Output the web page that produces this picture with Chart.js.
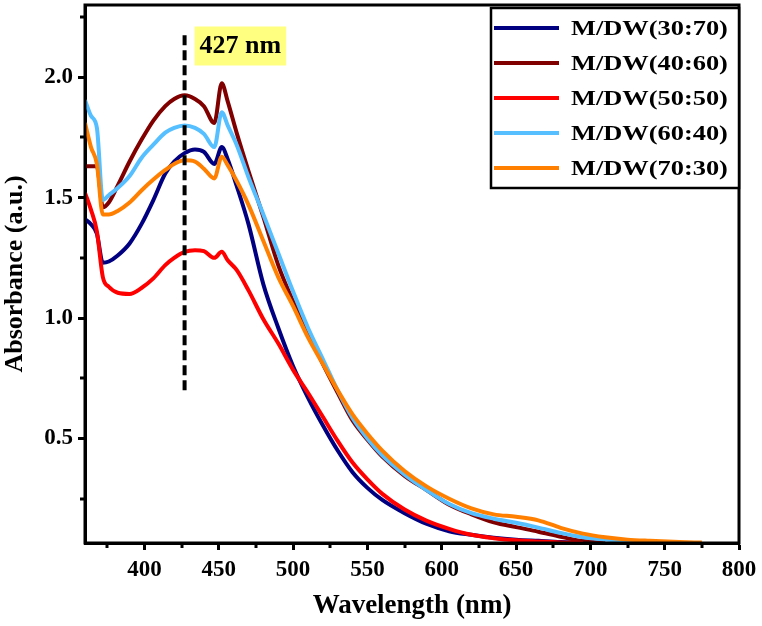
<!DOCTYPE html>
<html>
<head>
<meta charset="utf-8">
<script src="https://cdn.jsdelivr.net/npm/chart.js@4.4.1/dist/chart.umd.min.js"></script>
<style>
  html, body { margin: 0; padding: 0; background: #fff; }
  #wrap { width: 762px; height: 626px; }
</style>
</head>
<body>
<div id="wrap"><canvas id="uvChart" width="762" height="626"></canvas></div>
<script>
// UV-Vis absorbance spectra, M/DW ratios

const wavelengths = [360, 364, 368, 372, 376, 382, 390, 398, 406, 414, 420, 427, 434, 440, 447, 452, 456, 462, 470, 480,
    490, 500, 510, 520, 530, 540, 550, 560, 575, 590, 605, 620, 635, 650, 665, 680, 695, 710, 725, 740, 760, 775];

const seriesLabels = ['M/DW(30:70)', 'M/DW(40:60)', 'M/DW(50:50)', 'M/DW(60:40)', 'M/DW(70:30)'];
const seriesColors = ['#000080', '#800000', '#ff0000', '#55bfff', '#ff8000'];

const abs3070 = [1.41, 1.39, 1.35, 1.23, 1.235, 1.26, 1.31, 1.39, 1.49, 1.60, 1.65, 1.685, 1.70, 1.69, 1.64, 1.71, 1.66, 1.55, 1.39, 1.14,
    0.96, 0.80, 0.67, 0.555, 0.45, 0.36, 0.295, 0.245, 0.19, 0.145, 0.115, 0.10, 0.088, 0.08, 0.075, 0.07, 0.067, null, null, null, null, null];
const abs4060 = [1.63, 1.63, 1.63, 1.46, 1.48, 1.55, 1.65, 1.74, 1.82, 1.88, 1.91, 1.925, 1.91, 1.88, 1.81, 1.975, 1.90, 1.77, 1.61, 1.42,
    1.22, 1.07, 0.94, 0.81, 0.69, 0.575, 0.495, 0.425, 0.345, 0.285, 0.225, 0.185, 0.152, 0.132, 0.113, 0.092, 0.074, 0.066, null, null, null, null];
const abs5050 = [1.52, 1.45, 1.36, 1.17, 1.13, 1.105, 1.10, 1.125, 1.165, 1.22, 1.25, 1.275, 1.282, 1.278, 1.25, 1.275, 1.24, 1.20, 1.115, 0.995,
    0.895, 0.785, 0.69, 0.59, 0.49, 0.40, 0.33, 0.27, 0.205, 0.158, 0.125, 0.10, 0.086, 0.077, 0.072, 0.068, 0.066, null, null, null, null, null];
const abs6040 = [1.905, 1.84, 1.79, 1.49, 1.51, 1.54, 1.59, 1.665, 1.72, 1.77, 1.79, 1.80, 1.79, 1.765, 1.71, 1.855, 1.80, 1.72, 1.585, 1.43,
    1.27, 1.11, 0.96, 0.83, 0.70, 0.585, 0.50, 0.43, 0.35, 0.285, 0.228, 0.19, 0.167, 0.15, 0.13, 0.108, 0.09, 0.08, 0.073, 0.068, null, null];
const abs7030 = [1.81, 1.71, 1.64, 1.43, 1.43, 1.445, 1.48, 1.53, 1.575, 1.615, 1.64, 1.655, 1.65, 1.62, 1.58, 1.67, 1.635, 1.57, 1.47, 1.32,
    1.17, 1.05, 0.92, 0.81, 0.70, 0.60, 0.52, 0.45, 0.365, 0.30, 0.25, 0.21, 0.185, 0.175, 0.16, 0.129, 0.105, 0.09, 0.08, 0.075, 0.07, 0.068];

const seriesValues = [abs3070, abs4060, abs5050, abs6040, abs7030];
// drawing order: orange on top, then cyan, red, brown, navy
const seriesOrder = [4, 3, 2, 1, 0];

// 427 nm marker line
const markerX = [427, 427];
const markerY = [0.70, 2.19];
const markerLabel = '427 nm';

const xTicks = [400, 450, 500, 550, 600, 650, 700, 750, 800];
const xMinorTicks = [375, 425, 475, 525, 575, 625, 675, 725, 775];
const yTicks = [0.5, 1.0, 1.5, 2.0];
const yMinorTicks = [0.25, 0.75, 1.25, 1.75, 2.25];

const serif = "'Liberation Serif', 'Times New Roman', serif";

function toPoints(xs, ys) {
    const pts = [];
    xs.forEach((x, i) => {
        if (ys[i] !== null) pts.push({ x: x, y: ys[i] });
    });
    return pts;
}

const datasets = seriesLabels.map((label, i) => ({
    label: label,
    data: toPoints(wavelengths, seriesValues[i]),
    borderColor: seriesColors[i],
    borderWidth: 4,
    pointRadius: 0,
    fill: false,
    cubicInterpolationMode: 'monotone',
    order: seriesOrder[i]
}));

datasets.push({
    label: 'marker',
    data: toPoints(markerX, markerY),
    borderColor: '#000',
    borderWidth: 4,
    borderDash: [10, 5],
    pointRadius: 0,
    fill: false,
    order: -1
});

// frame, minor ticks, legend box and label
const decorPlugin = {
    id: 'decor',
    afterDraw(chart) {
        const ctx = chart.ctx;
        const area = chart.chartArea;
        const xs = chart.scales.x;
        const ys = chart.scales.y;
        ctx.save();

        // minor ticks
        ctx.strokeStyle = '#000';
        ctx.lineWidth = 3;
        xMinorTicks.forEach(v => {
            const px = Math.round(xs.getPixelForValue(v));
            ctx.beginPath();
            ctx.moveTo(px, area.bottom);
            ctx.lineTo(px, area.bottom + 5);
            ctx.stroke();
        });
        yMinorTicks.forEach(v => {
            const py = Math.round(ys.getPixelForValue(v));
            ctx.beginPath();
            ctx.moveTo(area.left, py);
            ctx.lineTo(area.left - 5, py);
            ctx.stroke();
        });

        // frame
        ctx.lineWidth = 3;
        ctx.strokeRect(area.left, area.top, area.right - area.left, area.bottom - area.top);

        // 427 nm label
        const lx = xs.getPixelForValue(427) + 10;
        const ly = ys.getPixelForValue(2.19) - 5;
        ctx.font = 'bold 26px ' + serif;
        const tw = ctx.measureText(markerLabel).width;
        ctx.fillStyle = '#ffff80';
        ctx.fillRect(lx, ly, tw + 10, 39);
        ctx.fillStyle = '#000';
        ctx.textBaseline = 'middle';
        ctx.textAlign = 'left';
        ctx.fillText(markerLabel, lx + 5, ly + 20);

        // legend
        const boxL = 491, boxT = area.top + 3, boxR = area.right, boxB = 188;
        ctx.fillStyle = '#fff';
        ctx.fillRect(boxL, boxT, boxR - boxL, boxB - boxT);
        ctx.strokeStyle = '#000';
        ctx.lineWidth = 2.5;
        ctx.strokeRect(boxL, boxT, boxR - boxL, boxB - boxT);
        seriesLabels.forEach((label, i) => {
            const y = 28 + i * 35;
            ctx.strokeStyle = seriesColors[i];
            ctx.lineWidth = 4;
            ctx.beginPath();
            ctx.moveTo(494, y);
            ctx.lineTo(559, y);
            ctx.stroke();
            ctx.save();
            ctx.translate(571, y + 1);
            ctx.scale(1.2, 1);
            ctx.font = 'bold 22px ' + serif;
            ctx.fillStyle = '#000';
            ctx.textBaseline = 'middle';
            ctx.fillText(label, 0, 0);
            ctx.restore();
        });
        ctx.restore();
    }
};

function buildChart() {
    const ctx = document.getElementById('uvChart').getContext('2d');
    return new Chart(ctx, {
        type: 'line',
        data: { datasets: datasets },
        options: {
            responsive: false,
            animation: false,
            layout: { padding: { left: 0, top: 5, right: 23, bottom: 0 } },
            plugins: {
                legend: { display: false },
                tooltip: { enabled: false }
            },
            scales: {
                x: {
                    type: 'linear',
                    min: 360,
                    max: 800,
                    afterBuildTicks: scale => { scale.ticks = xTicks.map(v => ({ value: v })); },
                    afterFit: scale => { scale.height = 83; scale.paddingLeft = 0; scale.paddingRight = 0; },
                    border: { display: true, color: '#000', width: 3 },
                    grid: { drawOnChartArea: false, drawTicks: true, tickLength: 7, tickWidth: 3, tickColor: '#000' },
                    ticks: {
                        color: '#000',
                        padding: 6,
                        maxRotation: 0,
                        font: { family: serif, size: 23, weight: 'bold' },
                        callback: v => String(v)
                    },
                    title: {
                        display: true,
                        text: 'Wavelength (nm)',
                        color: '#000',
                        font: { family: serif, size: 27, weight: 'bold' },
                        padding: { top: 0, bottom: 4 }
                    }
                },
                y: {
                    type: 'linear',
                    min: 0.066,
                    max: 2.30,
                    afterBuildTicks: scale => { scale.ticks = yTicks.map(v => ({ value: v })); },
                    afterFit: scale => { scale.width = 85; scale.paddingTop = 0; scale.paddingBottom = 0; },
                    border: { display: true, color: '#000', width: 3 },
                    grid: { drawOnChartArea: false, drawTicks: true, tickLength: 7, tickWidth: 3, tickColor: '#000' },
                    ticks: {
                        color: '#000',
                        padding: 5,
                        font: { family: serif, size: 23, weight: 'bold' },
                        callback: v => v.toFixed(1)
                    },
                    title: {
                        display: true,
                        text: 'Absorbance (a.u.)',
                        color: '#000',
                        font: { family: serif, size: 26, weight: 'bold' },
                        padding: { top: 0, bottom: 0 }
                    }
                }
            }
        },
        plugins: [decorPlugin]
    });
}

buildChart();
</script>
</body>
</html>
